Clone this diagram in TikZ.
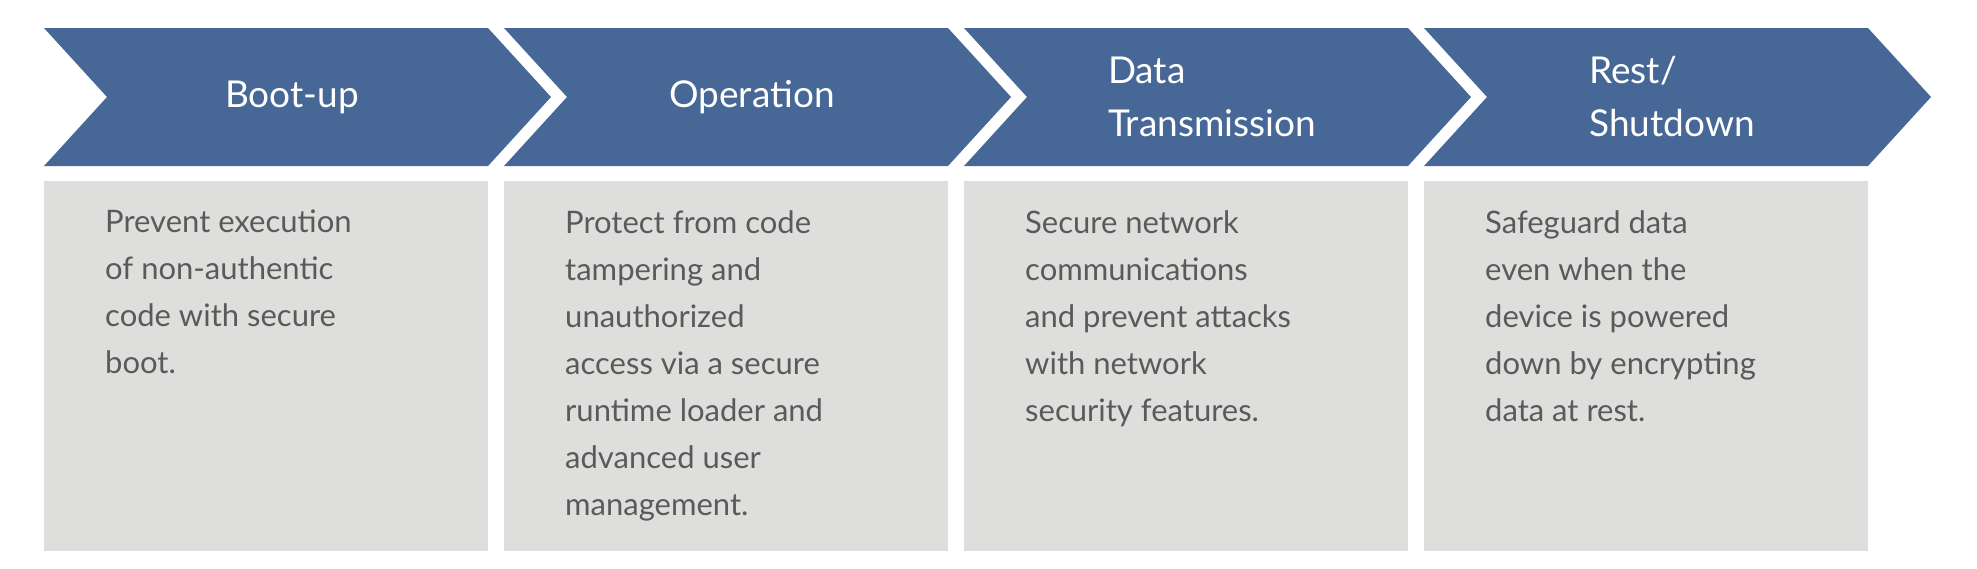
\documentclass[tikz,border=0pt]{standalone}
\usepackage{fontspec}
\setmainfont{Lato}
\definecolor{cblue}{HTML}{476896}
\definecolor{cgray}{HTML}{DEDEDC}
\definecolor{ctext}{HTML}{5A5A5A}
\begin{document}
\begin{tikzpicture}[x=1pt,y=-1pt,
  chev/.style={fill=cblue},
  box/.style={fill=cgray},
  head/.style={text=white,font=\fontsize{37}{53}\selectfont,align=left,anchor=center},
  body/.style={text=ctext,font=\fontsize{31}{47}\selectfont,align=left,anchor=north west,inner sep=0pt}]
\useasboundingbox (0,0) rectangle (1977,568);
\foreach \i/\h/\b in {0/{Boot-up}/{Prevent execution\\of non-authentic\\code with secure\\boot.},
  1/{Operation}/{Protect from code\\tampering and\\unauthorized\\access via a secure\\runtime loader and\\advanced user\\management.},
  2/{Data\\Transmission}/{Secure network\\communications\\and prevent attacks\\with network\\security features.},
  3/{Rest/\\Shutdown}/{Safeguard data\\even when the\\device is powered\\down by encrypting\\data at rest.}}{
  \pgfmathsetmacro{\xs}{44+460*\i}
  \fill[chev] (\xs,28) -- ++(444,0) -- ++(63,69) -- ++(-63,69) -- ++(-444,0) -- ++(63,-69) -- cycle;
  \node[head] (h\i) at (\xs+248,97) {\h};
  \fill[box] (\xs,181) rectangle ++(444,370);
  \node[body] (b\i) at (\xs+61,210) {\b};
}
\end{tikzpicture}
\end{document}
